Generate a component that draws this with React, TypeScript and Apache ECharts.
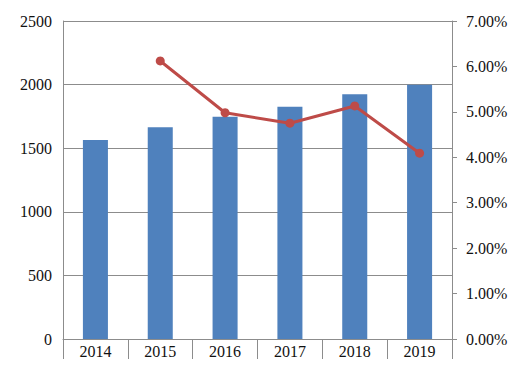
import React, { useEffect, useRef } from "react";
import * as echarts from "echarts";

const categories = ["2014", "2015", "2016", "2017", "2018", "2019"];
const barValues = [1565, 1665, 1748, 1826, 1924, 1998];
const lineValues = [null, 6.12, 4.98, 4.75, 5.13, 4.09];
const leftTicks = { min: 0, max: 2500, interval: 500 };
const rightTicks = { min: 0, max: 7, interval: 1 };

const FONT = "Liberation Serif";
const GRAY = "#8c8c8c";

export default function App() {
  const ref = useRef<HTMLDivElement>(null);
  useEffect(() => {
    if (!ref.current) return;
    const chart = echarts.init(ref.current, undefined, { renderer: "svg" });
    chart.setOption({
      animation: false,
      backgroundColor: "#ffffff",
      grid: { left: 63, right: 65, top: 21, bottom: 28, containLabel: false },
      xAxis: {
        type: "category",
        data: categories,
        boundaryGap: true,
        axisLine: { show: true, lineStyle: { color: GRAY, width: 1 } },
        axisTick: { show: true, alignWithLabel: false, length: 25, lineStyle: { color: GRAY, width: 1 } },
        axisLabel: { color: "#111", fontFamily: FONT, fontSize: 16, margin: 4 },
        splitLine: { show: false },
      },
      yAxis: [
        {
          type: "value",
          min: leftTicks.min,
          max: leftTicks.max,
          interval: leftTicks.interval,
          axisLine: { show: true, lineStyle: { color: GRAY, width: 1 } },
          axisTick: { show: false },
          axisLabel: {
            color: "#111",
            fontFamily: FONT,
            fontSize: 16,
            margin: 11,
            formatter: (v: number) => String(v),
          },
          splitLine: { show: true, lineStyle: { color: GRAY, width: 1 } },
        },
        {
          type: "value",
          position: "right",
          min: rightTicks.min,
          max: rightTicks.max,
          interval: rightTicks.interval,
          axisLine: { show: true, lineStyle: { color: GRAY, width: 1 } },
          axisTick: { show: true, inside: false, length: 5, lineStyle: { color: GRAY, width: 1 } },
          axisLabel: {
            color: "#111",
            fontFamily: FONT,
            fontSize: 16,
            margin: 14,
            formatter: (v: number) => v.toFixed(2) + "%",
          },
          splitLine: { show: false },
        },
      ],
      series: [
        {
          type: "bar",
          data: barValues,
          barWidth: "38.6%",
          itemStyle: { color: "#4F81BD" },
          yAxisIndex: 0,
        },
        {
          type: "line",
          data: lineValues,
          yAxisIndex: 1,
          symbol: "circle",
          symbolSize: 9,
          connectNulls: false,
          lineStyle: { color: "#BE4B48", width: 3 },
          itemStyle: { color: "#BE4B48" },
        },
      ],
      graphic: [
        {
          type: "line",
          shape: { x1: 6, y1: 362, x2: 452, y2: 362 },
          style: { stroke: GRAY, lineWidth: 1 },
        },
      ],
    });
    return () => chart.dispose();
  }, []);
  return <div ref={ref} style={{ width: 517, height: 367, margin: -8 }} />;
}
